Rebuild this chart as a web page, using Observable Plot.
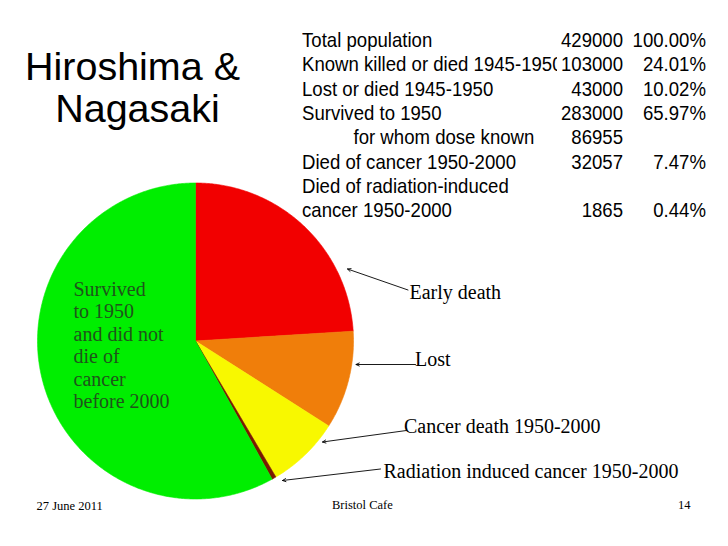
<!DOCTYPE html>
<html><head><meta charset="utf-8">
<script src="https://cdn.jsdelivr.net/npm/d3@7"></script>
<script src="https://cdn.jsdelivr.net/npm/@observablehq/plot@0.6"></script>
<style>
html,body{margin:0;padding:0;background:#fff;}
#slide{position:relative;width:728px;height:546px;overflow:hidden;background:#fff;}
#slide svg{position:absolute;left:0;top:0;}
#table{position:absolute;left:0;top:0;width:728px;height:220px;transform-origin:0 0;}
#labelsClip{position:absolute;left:0;top:0;width:557px;height:220px;overflow:hidden;}
</style></head><body><div id="slide"><div id="table"><div id="labelsClip"></div></div></div>
<script>
// ---------- data ----------
const sliceLabels = ["Early death", "Lost", "Cancer death 1950-2000", "Radiation induced cancer 1950-2000", "Survived to 1950 and did not die of cancer before 2000"];
const sliceValues = [103000, 43000, 32057, 1865, 249078];
const sliceColors = ["#f20000", "#f07e0a", "#f8f800", "#7a1a00", "#00ee00"];

const tableLabels = ["Total population", "Known killed or died 1945-1950", "Lost or died 1945-1950", "Survived to 1950", "for whom dose known", "Died of cancer 1950-2000", "Died of radiation-induced", "cancer 1950-2000"];
const tableCounts = [429000, 103000, 43000, 283000, 86955, 32057, null, 1865];
const tablePercents = ["100.00%", "24.01%", "10.02%", "65.97%", "", "7.47%", "", "0.44%"];
const tableIndent = [false, false, false, false, true, false, false, false];

const calloutLabels = ["Early death", "Lost", "Cancer death 1950-2000", "Radiation induced cancer 1950-2000"];
const greenLabel = "Survived\nto 1950\nand did not\ndie of\ncancer\nbefore 2000";
const titleLines = ["Hiroshima &", "Nagasaki"];
const footerTexts = ["27 June 2011", "Bristol Cafe", "14"];

// ---------- layout ----------
const W = 728, H = 546, CX = 195, CY = 340.5, R = 158;
const U = px => (px - CX) / R, V = py => (CY - py) / R;
const calloutLayout = [
  {tx: 409, ty: 298.5, x1: 407.5, y1: 289.5, x2: 347, y2: 268.5},
  {tx: 414.5, ty: 365.5, x1: 415, y1: 364, x2: 355.5, y2: 364},
  {tx: 403.5, ty: 432, x1: 406, y1: 430, x2: 322, y2: 441.5},
  {tx: 383, ty: 477, x1: 380, y1: 468.5, x2: 282, y2: 480}
];
const titleLayout = [{x: 132, y: 79}, {x: 137, y: 121}];
const footerLayout = [{x: 36, y: 509, a: "start"}, {x: 331.5, y: 508.5, a: "start"}, {x: 690, y: 508.5, a: "end"}];

// ---------- pie geometry from data ----------
const slices = sliceLabels.map((label, i) => ({label, value: sliceValues[i]}));
const arcs = d3.pie().sort(null).value(d => d.value)(slices);
const pts = [];
for (const a of arcs) {
  const cat = a.data.label;
  pts.push({cat, x: 0, y: 0});
  const n = Math.max(2, Math.ceil((a.endAngle - a.startAngle) / (Math.PI / 360)));
  for (let i = 0; i <= n; i++) {
    const t = a.startAngle + (a.endAngle - a.startAngle) * i / n;
    pts.push({cat, x: Math.sin(t), y: Math.cos(t)});
  }
  pts.push({cat, x: 0, y: 0});
}

const callouts = calloutLabels.map((t, i) => ({t, ...calloutLayout[i]}));
const titles = titleLines.map((t, i) => ({t, ...titleLayout[i]}));
const footers = footerTexts.map((t, i) => ({t, ...footerLayout[i]}));

const serif = "Liberation Serif, Times New Roman, serif";
const sans = "Liberation Sans, Arial, sans-serif";

const main = Plot.plot({
  width: W, height: H, margin: 0,
  style: {background: "transparent"},
  x: {domain: [U(0), U(W)], axis: null},
  y: {domain: [V(H), V(0)], axis: null},
  color: {domain: sliceLabels, range: sliceColors},
  marks: [
    Plot.line(pts, {x: "x", y: "y", z: "cat", fill: "cat", stroke: "cat", strokeWidth: 0.6, curve: "linear"}),
    Plot.arrow(callouts, {x1: d => U(d.x1), y1: d => V(d.y1), x2: d => U(d.x2), y2: d => V(d.y2), stroke: "black", strokeWidth: 0.9, headLength: 6, headAngle: 50}),
    Plot.text(callouts, {x: d => U(d.tx), y: d => V(d.ty), text: "t", textAnchor: "start", lineAnchor: "bottom", fontFamily: serif, fontSize: 20, fill: "black"}),
    Plot.text([greenLabel], {x: () => U(73), y: () => V(407.5), text: d => d, textAnchor: "start", lineAnchor: "bottom", lineHeight: 1.12, fontFamily: serif, fontSize: 20, fill: "#1f541b"}),
    Plot.text(titles, {x: d => U(d.x), y: d => V(d.y), text: "t", textAnchor: "middle", lineAnchor: "bottom", fontFamily: sans, fontSize: 39.5, fill: "black"}),
    Plot.text(footers.filter(d => d.a === "start"), {x: d => U(d.x), y: d => V(d.y), text: "t", textAnchor: "start", lineAnchor: "bottom", fontFamily: serif, fontSize: 12.5, fill: "black"}),
    Plot.text(footers.filter(d => d.a === "end"), {x: d => U(d.x), y: d => V(d.y), text: "t", textAnchor: "end", lineAnchor: "bottom", fontFamily: serif, fontSize: 12.5, fill: "black"})
  ]
});
document.getElementById("slide").prepend(main);

// ---------- table ----------
const K = 1.1, FS = 18.6;
const rows = tableLabels.map((label, i) => ({i, label, count: tableCounts[i], pct: tablePercents[i], indent: tableIndent[i]}));
const yRow = {domain: [0, 7], range: [46.5 / K, 216.6 / K], axis: null};
const tText = {y: "i", lineAnchor: "bottom", fontFamily: sans, fontSize: FS, fill: "black", frameAnchor: "left"};

const labelsPlot = Plot.plot({
  width: 557, height: 200, margin: 0,
  style: {background: "transparent", overflow: "hidden"},
  y: yRow,
  marks: [
    Plot.text(rows.filter(d => !d.indent), {...tText, text: "label", textAnchor: "start", dx: 301.5}),
    Plot.text(rows.filter(d => d.indent), {...tText, text: "label", textAnchor: "start", dx: 353})
  ]
});
const numsPlot = Plot.plot({
  width: 728, height: 200, margin: 0,
  style: {background: "transparent"},
  y: yRow,
  marks: [
    Plot.text(rows.filter(d => d.count != null), {...tText, text: d => String(d.count), textAnchor: "end", dx: 622.5}),
    Plot.text(rows.filter(d => d.pct), {...tText, text: "pct", textAnchor: "end", dx: 705.5})
  ]
});
const table = document.getElementById("table");
table.style.transform = `scaleY(${K})`;
document.getElementById("labelsClip").appendChild(labelsPlot);
table.appendChild(numsPlot);
</script>
</body></html>
